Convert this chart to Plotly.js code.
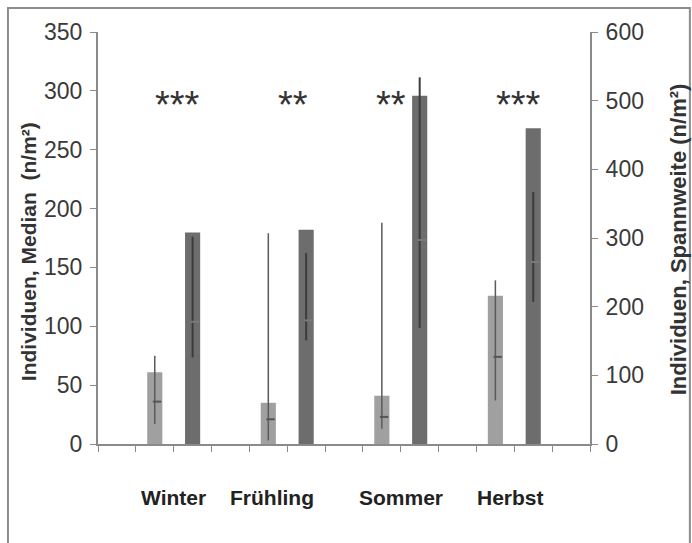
<!DOCTYPE html>
<html>
<head>
<meta charset="utf-8">
<script src="https://cdn.plot.ly/plotly-3.0.1.min.js"></script>
<style>html,body{margin:0;padding:0;background:#fff;}#chart{width:692px;height:543px;}</style>
</head>
<body>
<div id="chart"></div>
<script>
// Data
const seasons = ['Winter', 'Frühling', 'Sommer', 'Herbst'];
const medianBars = [61, 35, 41, 126];          // left axis (Median)
const rangeBars = [308, 312, 507, 460];        // right axis (Spannweite)
const medianLineMax = [75, 179, 188, 139];
const medianLineMin = [17, 3, 13, 37];
const medianMark = [36, 21, 23, 74];
const rangeLineMax = [302, 278, 534, 367];
const rangeLineMin = [126, 151, 169, 207];
const rangeMark = [178, 180, 297, 265];
const stars = ['***', '**', '**', '***'];

// Layout helpers (slot positions on a linear axis of 13 slots)
const medianX = [1, 4, 7, 10];
const rangeX = [2, 5, 8, 11];
const starX = [1.6, 4.65, 7.25, 10.6];
const labelX = [1.5, 4.1, 7.5, 10.4];
const slotEdges = [];
for (let i = 0; i <= 13; i++) slotEdges.push(i - 0.5);

function segs(xs, lo, hi) {
  const x = [], y = [];
  xs.forEach((v, i) => { x.push(v, v, null); y.push(lo[i], hi[i], null); });
  return {x, y};
}
const s1 = segs(medianX, medianLineMin, medianLineMax);
const s2 = segs(rangeX, rangeLineMin, rangeLineMax);

const font = 'Liberation Sans, Arial, sans-serif';

const traces = [
  {type: 'bar', x: medianX, y: medianBars, yaxis: 'y', width: 0.4,
   marker: {color: '#a0a0a0'}, hoverinfo: 'skip', showlegend: false},
  {type: 'bar', x: rangeX, y: rangeBars, yaxis: 'y2', width: 0.4,
   marker: {color: '#6d6d6d'}, hoverinfo: 'skip', showlegend: false},
  {type: 'scatter', mode: 'lines', x: s1.x, y: s1.y, yaxis: 'y',
   line: {color: '#5a5a5a', width: 1.5}, showlegend: false, connectgaps: false},
  {type: 'scatter', mode: 'lines', x: s2.x, y: s2.y, yaxis: 'y2',
   line: {color: '#3c3c3c', width: 2}, showlegend: false, connectgaps: false},
  {type: 'scatter', mode: 'markers', x: medianX.map(v => v + 0.06), y: medianMark, yaxis: 'y',
   marker: {symbol: 'line-ew', size: 6, line: {color: '#555', width: 2}}, showlegend: false},
  {type: 'scatter', mode: 'markers', x: rangeX.map(v => v + 0.06), y: rangeMark, yaxis: 'y2',
   marker: {symbol: 'line-ew', size: 6, line: {color: '#7a7a7a', width: 2}}, showlegend: false}
];

const annotations = [];
seasons.forEach((s, i) => {
  annotations.push({xref: 'x', yref: 'paper', x: labelX[i], y: -0.129, text: '<b>' + s + '</b>',
    showarrow: false, xanchor: 'center', yanchor: 'middle', font: {family: font, size: 21, color: '#222'}});
  annotations.push({xref: 'x', yref: 'y', x: starX[i], y: 288, text: stars[i],
    showarrow: false, xanchor: 'center', yanchor: 'middle', font: {family: font, size: 38, color: '#333'}});
});
annotations.push({xref: 'paper', yref: 'paper', x: -0.142, y: 0.466, text: '<b>Individuen, Median  (n/m²)</b>',
  textangle: -90, showarrow: false, xanchor: 'center', yanchor: 'middle', font: {family: font, size: 21, color: '#333'}});
annotations.push({xref: 'paper', yref: 'paper', x: 1.179, y: 0.497, text: '<b>Individuen, Spannweite (n/m²)</b>',
  textangle: -90, showarrow: false, xanchor: 'center', yanchor: 'middle', font: {family: font, size: 22, color: '#333'}});

const layout = {
  width: 692, height: 543,
  margin: {l: 98, r: 102, t: 32, b: 99},
  paper_bgcolor: '#fff', plot_bgcolor: '#fff',
  showlegend: false,
  xaxis: {range: [-0.5, 12.5], showgrid: false, zeroline: false, showline: true, linecolor: '#8a8a8a', linewidth: 2,
    tickmode: 'array', tickvals: slotEdges, ticktext: slotEdges.map(() => ''), ticks: 'outside', ticklen: 6,
    tickcolor: '#8a8a8a', tickwidth: 1, fixedrange: true},
  yaxis: {range: [0, 350], tickvals: [0, 50, 100, 150, 200, 250, 300, 350], showgrid: false, zeroline: false,
    showline: true, linecolor: '#8a8a8a', linewidth: 2, ticks: 'outside', ticklen: 6, tickcolor: '#8a8a8a',
    tickfont: {family: font, size: 23, color: '#3a3a3a'}, ticklabelstandoff: 3},
  yaxis2: {range: [0, 600], tickvals: [0, 100, 200, 300, 400, 500, 600], overlaying: 'y', side: 'right',
    showgrid: false, zeroline: false, showline: true, linecolor: '#8a8a8a', linewidth: 2, ticks: 'outside',
    ticklen: 6, tickcolor: '#8a8a8a', tickfont: {family: font, size: 23, color: '#3a3a3a'}, ticklabelstandoff: 3},
  annotations: annotations,
  shapes: [{type: 'rect', xref: 'paper', yref: 'paper', x0: -0.183, x1: 1.203, y0: -0.26, y1: 1.058,
    line: {color: '#8c8c8c', width: 2}, layer: 'below'}]
};

Plotly.newPlot('chart', traces, layout, {displayModeBar: false, staticPlot: true});
</script>
</body>
</html>
